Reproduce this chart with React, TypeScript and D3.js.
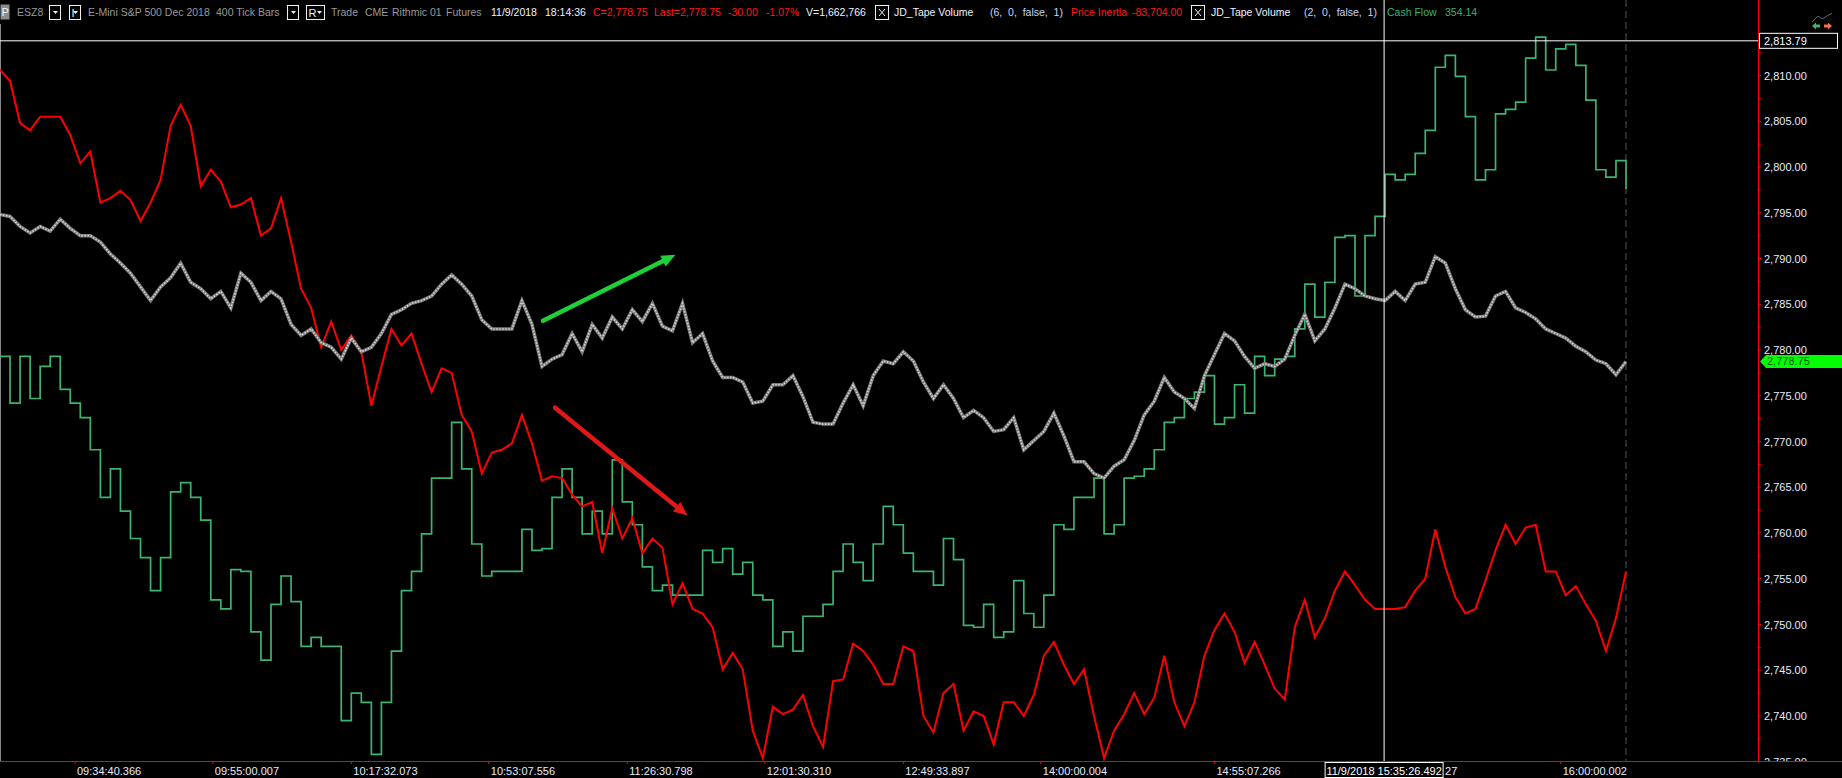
import React, { useEffect } from 'react';
import * as d3 from 'd3';

// price series (ESZ8, 400 tick bars), one value per ~10px bar group
const priceSeries: number[] = [
  2794.8, 2794.6, 2793.5, 2792.8, 2793.5, 2793.0, 2794.3, 2793.3, 2792.5, 2792.5,
  2791.8, 2790.5, 2789.5, 2788.4, 2786.9, 2785.4, 2786.9, 2787.9, 2789.5, 2787.4,
  2786.7, 2785.6, 2786.4, 2784.6, 2788.4, 2787.4, 2785.4, 2786.4, 2785.6, 2782.8,
  2781.6, 2782.3, 2780.8, 2780.3, 2779.0, 2781.3, 2779.8, 2780.3, 2781.8, 2783.9,
  2784.4, 2785.1, 2785.4, 2785.9, 2787.2, 2788.2, 2787.2, 2785.9, 2783.3, 2782.3,
  2782.3, 2782.3, 2785.4, 2782.8, 2778.2, 2779.0, 2779.5, 2781.8, 2779.8, 2782.8,
  2781.3, 2783.6, 2782.3, 2784.4, 2783.1, 2785.1, 2782.6, 2782.1, 2785.1, 2780.8,
  2781.8, 2778.8, 2777.0, 2777.0, 2776.5, 2774.2, 2774.4, 2776.2, 2776.2, 2777.2,
  2774.9, 2772.1, 2771.9, 2771.9, 2774.2, 2776.2, 2773.9, 2777.2, 2778.8, 2778.5,
  2779.8, 2778.8, 2776.5, 2774.7, 2776.2, 2774.7, 2772.6, 2773.4, 2772.6, 2771.1,
  2771.3, 2772.6, 2769.1, 2770.1, 2771.1, 2773.1, 2770.6, 2767.8, 2767.8, 2766.5,
  2766.0, 2767.3, 2768.0, 2770.1, 2772.9, 2774.4, 2777.0, 2775.4, 2774.7, 2773.6,
  2777.2, 2779.5, 2781.8, 2781.0, 2779.3, 2778.0, 2778.5, 2778.2, 2779.0, 2781.6,
  2783.9, 2781.0, 2782.3, 2784.6, 2787.2, 2786.7, 2785.9, 2785.6, 2785.4, 2786.4,
  2785.4, 2787.2, 2787.4, 2790.2, 2789.5, 2786.7, 2784.4, 2783.6, 2783.7, 2785.9,
  2786.4, 2784.6, 2784.1, 2783.4, 2782.3, 2781.8, 2781.3, 2780.4, 2779.8, 2778.9,
  2778.5, 2777.3, 2778.75,
];

// JD_Tape Volume (6,0,false,1) - Price Inertia, drawn in price units
const inertiaSeries: number[] = [
  2810.6, 2809.4, 2804.8, 2804.0, 2805.5, 2805.5, 2805.5, 2803.5, 2800.4, 2801.7,
  2796.1, 2796.6, 2797.4, 2796.4, 2794.1, 2796.1, 2798.6, 2804.5, 2806.8, 2804.5,
  2797.9, 2799.7, 2798.4, 2795.6, 2795.9, 2796.6, 2792.5, 2793.3, 2796.6, 2791.8,
  2786.7, 2784.6, 2780.3, 2783.1, 2780.0, 2781.6, 2779.8, 2773.9, 2778.2, 2782.3,
  2780.5, 2781.8, 2778.5, 2775.4, 2778.0, 2777.5, 2772.9, 2771.1, 2766.5, 2768.8,
  2769.1, 2769.8, 2772.9, 2769.8, 2765.7, 2766.2, 2766.0, 2764.2, 2762.9, 2763.4,
  2757.8, 2762.7, 2759.4, 2761.6, 2757.8, 2759.4, 2758.4, 2752.2, 2754.5, 2751.7,
  2751.2, 2749.7, 2745.1, 2746.9, 2745.1, 2738.4, 2735.4, 2741.0, 2740.2, 2740.7,
  2742.3, 2738.9, 2736.6, 2743.8, 2744.0, 2747.9, 2747.1, 2745.6, 2743.5, 2743.5,
  2747.6, 2747.1, 2740.0, 2738.2, 2742.5, 2743.5, 2738.4, 2740.5, 2740.0, 2736.9,
  2741.5, 2741.5, 2740.0, 2742.3, 2746.6, 2748.1, 2745.6, 2743.5, 2745.1, 2740.0,
  2735.4, 2738.4, 2740.2, 2742.5, 2740.2, 2742.0, 2746.6, 2741.5, 2738.9, 2741.5,
  2746.6, 2749.4, 2751.2, 2749.2, 2745.8, 2748.1, 2745.6, 2743.0, 2741.8, 2749.7,
  2752.7, 2748.6, 2750.7, 2753.7, 2755.8, 2754.3, 2752.7, 2751.7, 2751.7, 2751.7,
  2751.9, 2753.7, 2755.0, 2760.4, 2756.3, 2753.0, 2751.2, 2751.7, 2754.8, 2758.1,
  2760.9, 2758.8, 2760.6, 2760.9, 2755.8, 2755.8, 2753.2, 2754.2, 2752.2, 2750.4,
  2747.1, 2750.7, 2755.8,
];

// JD_Tape Volume (2,0,false,1) - Cash Flow, drawn in price units
const cashFlowSeries: number[] = [
  2779.3, 2774.2, 2779.3, 2774.7, 2778.2, 2779.3, 2775.7, 2774.2, 2772.6, 2769.1,
  2763.9, 2767.0, 2762.4, 2759.4, 2757.3, 2753.7, 2757.3, 2764.5, 2765.5, 2763.9,
  2761.4, 2752.7, 2751.7, 2756.0, 2755.8, 2749.2, 2746.1, 2752.2, 2755.3, 2752.5,
  2747.6, 2748.6, 2747.6, 2747.6, 2739.5, 2742.5, 2741.5, 2735.8, 2741.5, 2747.1,
  2753.7, 2755.8, 2759.9, 2766.0, 2766.0, 2772.1, 2767.0, 2758.8, 2755.3, 2755.8,
  2755.8, 2755.8, 2760.4, 2758.1, 2758.3, 2763.9, 2767.0, 2763.9, 2759.9, 2762.4,
  2759.9, 2768.0, 2763.4, 2760.9, 2756.3, 2753.7, 2754.3, 2753.2, 2753.2, 2753.2,
  2758.1, 2756.8, 2758.3, 2755.5, 2756.8, 2753.2, 2752.7, 2747.6, 2749.2, 2747.1,
  2750.9, 2750.9, 2752.2, 2755.8, 2758.8, 2756.8, 2754.8, 2758.8, 2762.9, 2760.9,
  2757.8, 2755.8, 2755.8, 2754.3, 2759.4, 2757.1, 2749.9, 2749.7, 2752.2, 2748.6,
  2749.2, 2754.8, 2751.2, 2749.7, 2753.2, 2760.9, 2760.4, 2763.9, 2763.9, 2766.0,
  2759.9, 2760.9, 2766.0, 2766.2, 2767.0, 2769.1, 2772.1, 2772.6, 2774.7, 2775.4,
  2777.2, 2771.9, 2772.6, 2776.2, 2773.1, 2779.3, 2777.2, 2779.0, 2779.3, 2782.3,
  2787.2, 2783.6, 2787.4, 2792.3, 2792.5, 2785.9, 2792.5, 2794.6, 2799.2, 2798.6,
  2799.2, 2801.5, 2804.0, 2810.9, 2812.2, 2809.9, 2805.5, 2798.6, 2799.7, 2805.8,
  2806.3, 2807.1, 2811.9, 2814.2, 2810.6, 2812.9, 2813.4, 2811.1, 2807.3, 2799.7,
  2798.9, 2800.7, 2797.6,
];

// time labels and the bar positions they sit on
const timeTickBars = [7.47, 21.2, 35.0, 48.7, 62.5, 76.2, 90.0, 103.7, 121.0, 138.2, 155.5];
const timeTickLabels = [
  '09:34:40.366', '09:55:00.007', '10:17:32.073', '10:53:07.556', '11:26:30.798',
  '12:01:30.310', '12:49:33.897', '14:00:00.004', '14:55:07.266', '15:36:01.127',
  '16:00:00.002',
];

const priceLabelTicks = d3.range(2735, 2810.01, 5);
const priceMinorTicks = d3.range(2737.5, 2813, 5);

const lastPrice = 2778.75;
const cursorPrice = 2813.79;
const cursorBar = 137.9;
const cursorTime = '11/9/2018 15:35:26.492';

// drawn annotations (bar, price)
const upArrow = [[54.1, 2783.2], [67.3, 2790.4]];
const downArrow = [[55.3, 2773.7], [68.5, 2761.9]];

const W = 1842;
const H = 778;
const axisX = 1758;
const axisY = 761;
const FONT = '"Liberation Sans", Arial, sans-serif';

const x = d3.scaleLinear().domain([0, priceSeries.length - 1]).range([0, 1626]);
const y = d3.scaleLinear().domain([2735, 2815]).range([761.75, 29.75]);

const fmt = d3.format(',.2f');

const Arrow: React.FC<{ pts: number[][]; color: string }> = ({ pts, color }) => {
  const x1 = x(pts[0][0]), y1 = y(pts[0][1]);
  const x2 = x(pts[1][0]), y2 = y(pts[1][1]);
  const ang = Math.atan2(y2 - y1, x2 - x1);
  const len = 14, half = 6;
  const bx = x2 - len * Math.cos(ang), by = y2 - len * Math.sin(ang);
  const px = -Math.sin(ang) * half, py = Math.cos(ang) * half;
  return (
    <g>
      <line x1={x1} y1={y1} x2={bx} y2={by} stroke={color} strokeWidth={4.5} strokeLinecap="round" />
      <polygon points={`${x2},${y2} ${bx + px},${by + py} ${bx - px},${by - py}`} fill={color} />
    </g>
  );
};

const DropBox: React.FC<{ x0: number; w: number; glyph?: string }> = ({ x0, w, glyph }) => (
  <g>
    <rect x={x0 + 0.5} y={5.5} width={w} height={14} fill="#000" stroke="#f0f0f0" strokeWidth={1} />
    {glyph && (
      <text x={x0 + 2.5} y={16.5} fill="#f0f0f0" fontSize={11} fontFamily={FONT}>{glyph}</text>
    )}
    <polygon
      points={`${x0 + w - 7},${11} ${x0 + w - 2},${11} ${x0 + w - 4.5},${14}`}
      fill="#f0f0f0"
    />
  </g>
);

const CloseBox: React.FC<{ x0: number }> = ({ x0 }) => (
  <g>
    <rect x={x0 + 0.5} y={5.5} width={13} height={14} fill="#000" stroke="#f0f0f0" />
    <path d={`M${x0 + 4},${9} L${x0 + 10},${16} M${x0 + 10},${9} L${x0 + 4},${16}`} stroke="#f0f0f0" strokeWidth={1} />
  </g>
);

const header: { t: string; x: number; c: string }[] = [
  { t: 'ESZ8', x: 17, c: '#9a9a9a' },
  { t: 'E-Mini S&P 500 Dec 2018', x: 88, c: '#9a9a9a' },
  { t: '400 Tick Bars', x: 216, c: '#9a9a9a' },
  { t: 'Trade', x: 331, c: '#9a9a9a' },
  { t: 'CME', x: 365, c: '#9a9a9a' },
  { t: 'Rithmic 01', x: 392, c: '#9a9a9a' },
  { t: 'Futures', x: 446, c: '#9a9a9a' },
  { t: '11/9/2018', x: 491, c: '#eef2ff' },
  { t: '18:14:36', x: 545, c: '#eef2ff' },
  { t: 'C=2,778.75', x: 593, c: '#ff1a1a' },
  { t: 'Last=2,778.75', x: 654, c: '#ff1a1a' },
  { t: '-30.00', x: 728, c: '#ff1a1a' },
  { t: '-1.07%', x: 766, c: '#ff1a1a' },
  { t: 'V=1,662,766', x: 806, c: '#eef2ff' },
  { t: 'JD_Tape Volume', x: 894, c: '#eef2ff' },
  { t: '(6,  0,  false,  1)', x: 990, c: '#c9d6f5' },
  { t: 'Price Inertia', x: 1071, c: '#ff1a1a' },
  { t: '-83,704.00', x: 1132, c: '#ff1a1a' },
  { t: 'JD_Tape Volume', x: 1211, c: '#eef2ff' },
  { t: '(2,  0,  false,  1)', x: 1304, c: '#c9d6f5' },
  { t: 'Cash Flow', x: 1387, c: '#3cb371' },
  { t: '354.14', x: 1445, c: '#3cb371' },
];

const App: React.FC = () => {
  useEffect(() => {
    document.body.style.margin = '0';
    document.body.style.background = '#000';
  }, []);

  const priceLine = d3.line<number>().x((_, i) => x(i)).y(d => y(d));
  const inertiaLine = d3.line<number>().x((_, i) => x(i)).y(d => y(d));
  const cashLine = d3.line<number>().x((_, i) => x(i)).y(d => y(d)).curve(d3.curveStepAfter);

  const cursorX = x(cursorBar);
  const boxL = cursorX - 59;
  const boxR = cursorX + 59;

  return (
    <svg width={W} height={H} style={{ display: 'block', background: '#000' }} fontFamily={FONT}>
      <rect width={W} height={H} fill="#000" />
      <defs>
        <clipPath id="plot">
          <rect x={0} y={0} width={axisX} height={axisY} />
        </clipPath>
        <clipPath id="axisclip">
          <rect x={axisX} y={0} width={W - axisX} height={axisY} />
        </clipPath>
      </defs>

      {/* header */}
      <rect x={0.5} y={4.5} width={9} height={15} fill="#8c8c8c" />
      <text x={1.5} y={16} fontSize={11} fill="#f4f4f4">P</text>
      <DropBox x0={49} w={11} />
      <DropBox x0={69} w={11} glyph="I" />
      <DropBox x0={287} w={11} />
      <DropBox x0={306} w={18} glyph="R" />
      <CloseBox x0={875} />
      <CloseBox x0={1191} />
      {header.map(h => (
        <text key={h.t + h.x} x={h.x} y={16} fontSize={10.5} fill={h.c} style={{ whiteSpace: 'pre' }}>
          {h.t}
        </text>
      ))}
      <path d="M1812,22 L1818,16 L1822,19 L1832,13" fill="none" stroke="#5a6488" strokeWidth={1} />
      <polygon points="1812,26 1816,22.5 1816,24.5 1820,24.5 1820,27.5 1816,27.5 1816,29.5" fill="#3cb371" />
      <polygon points="1832,26 1828,22.5 1828,24.5 1824,24.5 1824,27.5 1828,27.5 1828,29.5" fill="#f07050" />

      {/* frame */}
      <line x1={0.5} y1={24} x2={0.5} y2={axisY} stroke="#8a8a8a" />
      <line x1={x(priceSeries.length - 1)} y1={0} x2={x(priceSeries.length - 1)} y2={axisY}
        stroke="#555" strokeDasharray="7 4" />

      <g clipPath="url(#plot)">
        <path d={cashLine(cashFlowSeries) || ''} fill="none" stroke="#3cb371" strokeWidth={1.7} />
        <path d={inertiaLine(inertiaSeries) || ''} fill="none" stroke="#ff0000" strokeWidth={2} />
        <path d={priceLine(priceSeries) || ''} fill="none" stroke="#7c7c7c" strokeWidth={3.5} />
        <path d={priceLine(priceSeries) || ''} fill="none" stroke="#d8d8d8" strokeWidth={1.6}
          strokeDasharray="1.5 1.5" />
        <Arrow pts={upArrow} color="#1ed03a" />
        <Arrow pts={downArrow} color="#e01818" />
      </g>

      {/* crosshair */}
      <line x1={0} y1={y(cursorPrice)} x2={axisX} y2={y(cursorPrice)} stroke="#fff" strokeWidth={1} />
      <line x1={cursorX} y1={0} x2={cursorX} y2={axisY} stroke="#fff" strokeWidth={1} />

      {/* right price axis */}
      <line x1={axisX + 0.5} y1={0} x2={axisX + 0.5} y2={axisY} stroke="#ff0000" />
      {priceMinorTicks.map(v => (
        <line key={'m' + v} x1={axisX} x2={axisX + 3} y1={y(v)} y2={y(v)} stroke="#ff0000" />
      ))}
      <g clipPath="url(#axisclip)">
        {priceLabelTicks.map(v => (
          <g key={'l' + v}>
            <line x1={axisX} x2={axisX + 3} y1={y(v)} y2={y(v)} stroke="#ff0000" />
            <text x={axisX + 6} y={y(v) + 4} fontSize={11} fill="#e6ecff">{fmt(v)}</text>
          </g>
        ))}
      </g>
      <rect x={axisX + 1.5} y={y(cursorPrice) - 7.5} width={78} height={15} fill="#000" stroke="#fff" />
      <text x={axisX + 6} y={y(cursorPrice) + 4} fontSize={11} fill="#fff">{fmt(cursorPrice)}</text>
      <polygon
        points={`${axisX + 2},${y(lastPrice)} ${axisX + 8},${y(lastPrice) - 6.5} ${W},${y(lastPrice) - 6.5} ${W},${y(lastPrice) + 6.5} ${axisX + 8},${y(lastPrice) + 6.5}`}
        fill="#00ff00"
      />
      <text x={axisX + 9} y={y(lastPrice) + 4} fontSize={11} fill="#0b4d0b">{fmt(lastPrice)}</text>

      {/* bottom time axis */}
      <line x1={0} y1={axisY + 0.5} x2={W} y2={axisY + 0.5} stroke="#ff0000" />
      {timeTickBars.map((b, i) => {
        const tx = x(b) + 2;
        const label = timeTickLabels[i];
        // the cursor box hides the start of a label it sits on: show only the visible tail
        const hidden = tx < boxR && tx + 64 > boxL;
        return (
          <g key={'t' + i}>
            <line x1={x(b)} x2={x(b)} y1={axisY} y2={axisY + 3} stroke="#ff0000" />
            {hidden ? (
              <text x={boxR + 2} y={775} fontSize={11} fill="#e6ecff">{label.slice(-2)}</text>
            ) : (
              <text x={tx} y={775} fontSize={11} fill="#e6ecff">{label}</text>
            )}
          </g>
        );
      })}
      <rect x={boxL} y={762.5} width={118} height={15} fill="#000" stroke="#fff" />
      <text x={cursorX} y={775} fontSize={11} fill="#fff" textAnchor="middle">{cursorTime}</text>
    </svg>
  );
};

export default App;
